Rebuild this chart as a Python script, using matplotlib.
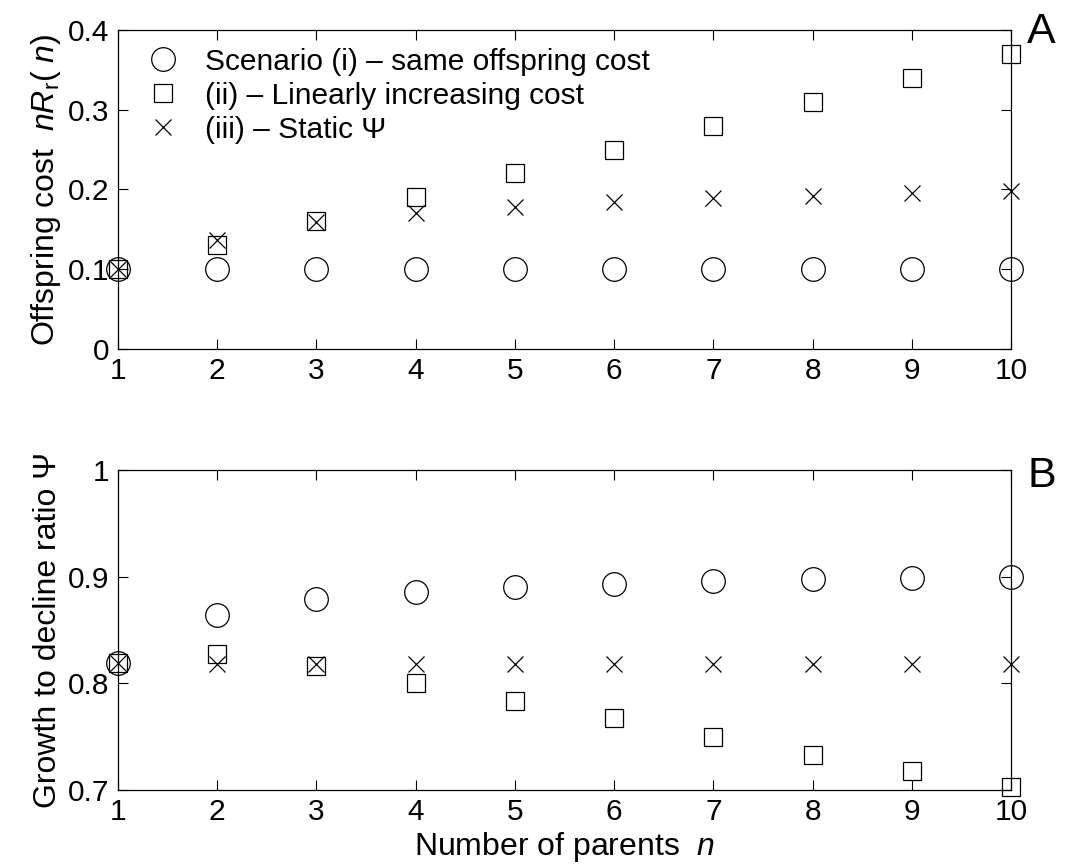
import matplotlib.pyplot as plt
import numpy as np

plt.rcParams['font.family'] = ['Liberation Sans', 'DejaVu Sans']
plt.rcParams['mathtext.fontset'] = 'custom'
plt.rcParams['mathtext.rm'] = 'Liberation Sans'
plt.rcParams['mathtext.it'] = 'Liberation Sans:italic'

# number of parents
n = [1, 2, 3, 4, 5, 6, 7, 8, 9, 10]

# panel A: offspring cost
cost_same = [0.1, 0.1, 0.1, 0.1, 0.1, 0.1, 0.1, 0.1, 0.1, 0.1]
cost_linear = [0.1, 0.13, 0.16, 0.19, 0.22, 0.25, 0.28, 0.31, 0.34, 0.37]
cost_static = [0.1, 0.136, 0.159, 0.170, 0.178, 0.184, 0.189, 0.192, 0.195, 0.198]

# panel B: growth to decline ratio
psi_same = [0.819, 0.864, 0.879, 0.886, 0.890, 0.893, 0.896, 0.8975, 0.899, 0.900]
psi_linear = [0.819, 0.827, 0.816, 0.800, 0.783, 0.767, 0.750, 0.733, 0.718, 0.7025]
psi_static = [0.819, 0.818, 0.818, 0.818, 0.818, 0.818, 0.818, 0.818, 0.818, 0.818]

fig = plt.figure(figsize=(10.65, 8.68), dpi=100)
axA = fig.add_axes([0.1108, 0.598, 0.8385, 0.3675])
axB = fig.add_axes([0.1108, 0.0899, 0.8385, 0.3687])

mk = dict(linestyle='none', color='k', markerfacecolor='none', clip_on=False)

axA.plot(n, cost_same, marker='o', markersize=17, markeredgewidth=0.9,
         label='Scenario (i) – same offspring cost', **mk)
axA.plot(n, cost_linear, marker='s', markersize=13, markeredgewidth=0.9,
         label='(ii) – Linearly increasing cost', **mk)
axA.plot(n, cost_static, marker='x', markersize=12, markeredgewidth=0.9,
         label='(iii) – Static Ψ', **mk)

axB.plot(n, psi_same, marker='o', markersize=17, markeredgewidth=0.9, **mk)
axB.plot(n, psi_linear, marker='s', markersize=13, markeredgewidth=0.9, **mk)
axB.plot(n, psi_static, marker='x', markersize=12, markeredgewidth=0.9, **mk)

for ax in (axA, axB):
    ax.set_xlim(1, 10)
    ax.set_xticks(n)
    ax.tick_params(direction='in', top=True, right=True, labelsize=21.5,
                   length=7, width=0.8, pad=6)
    for s in ax.spines.values():
        s.set_linewidth(0.9)

axA.set_ylim(0, 0.4)
axA.set_yticks([0, 0.1, 0.2, 0.3, 0.4])
axA.set_yticklabels(['0', '0.1', '0.2', '0.3', '0.4'])
axA.set_ylabel(r'Offspring cost  $nR_{\mathrm{r}}(\ n)$', fontsize=23, labelpad=4)

axB.set_ylim(0.7, 1.0)
axB.set_yticks([0.7, 0.8, 0.9, 1.0])
axB.set_yticklabels(['0.7', '0.8', '0.9', '1'])
axB.set_ylabel('Growth to decline ratio Ψ', fontsize=23, labelpad=4)
axB.set_xlabel(r'Number of parents  $n$', fontsize=23, labelpad=3)

axA.legend(loc='upper left', frameon=False, fontsize=21.5, handletextpad=0.8,
           borderaxespad=0.2, labelspacing=0.2, handlelength=1.2,
           bbox_to_anchor=(0.01, 1.0))

fig.text(0.978, 0.963, 'A', fontsize=31, ha='center', va='center')
fig.text(0.978, 0.452, 'B', fontsize=31, ha='center', va='center')

fig.savefig('out.png', dpi=100)
